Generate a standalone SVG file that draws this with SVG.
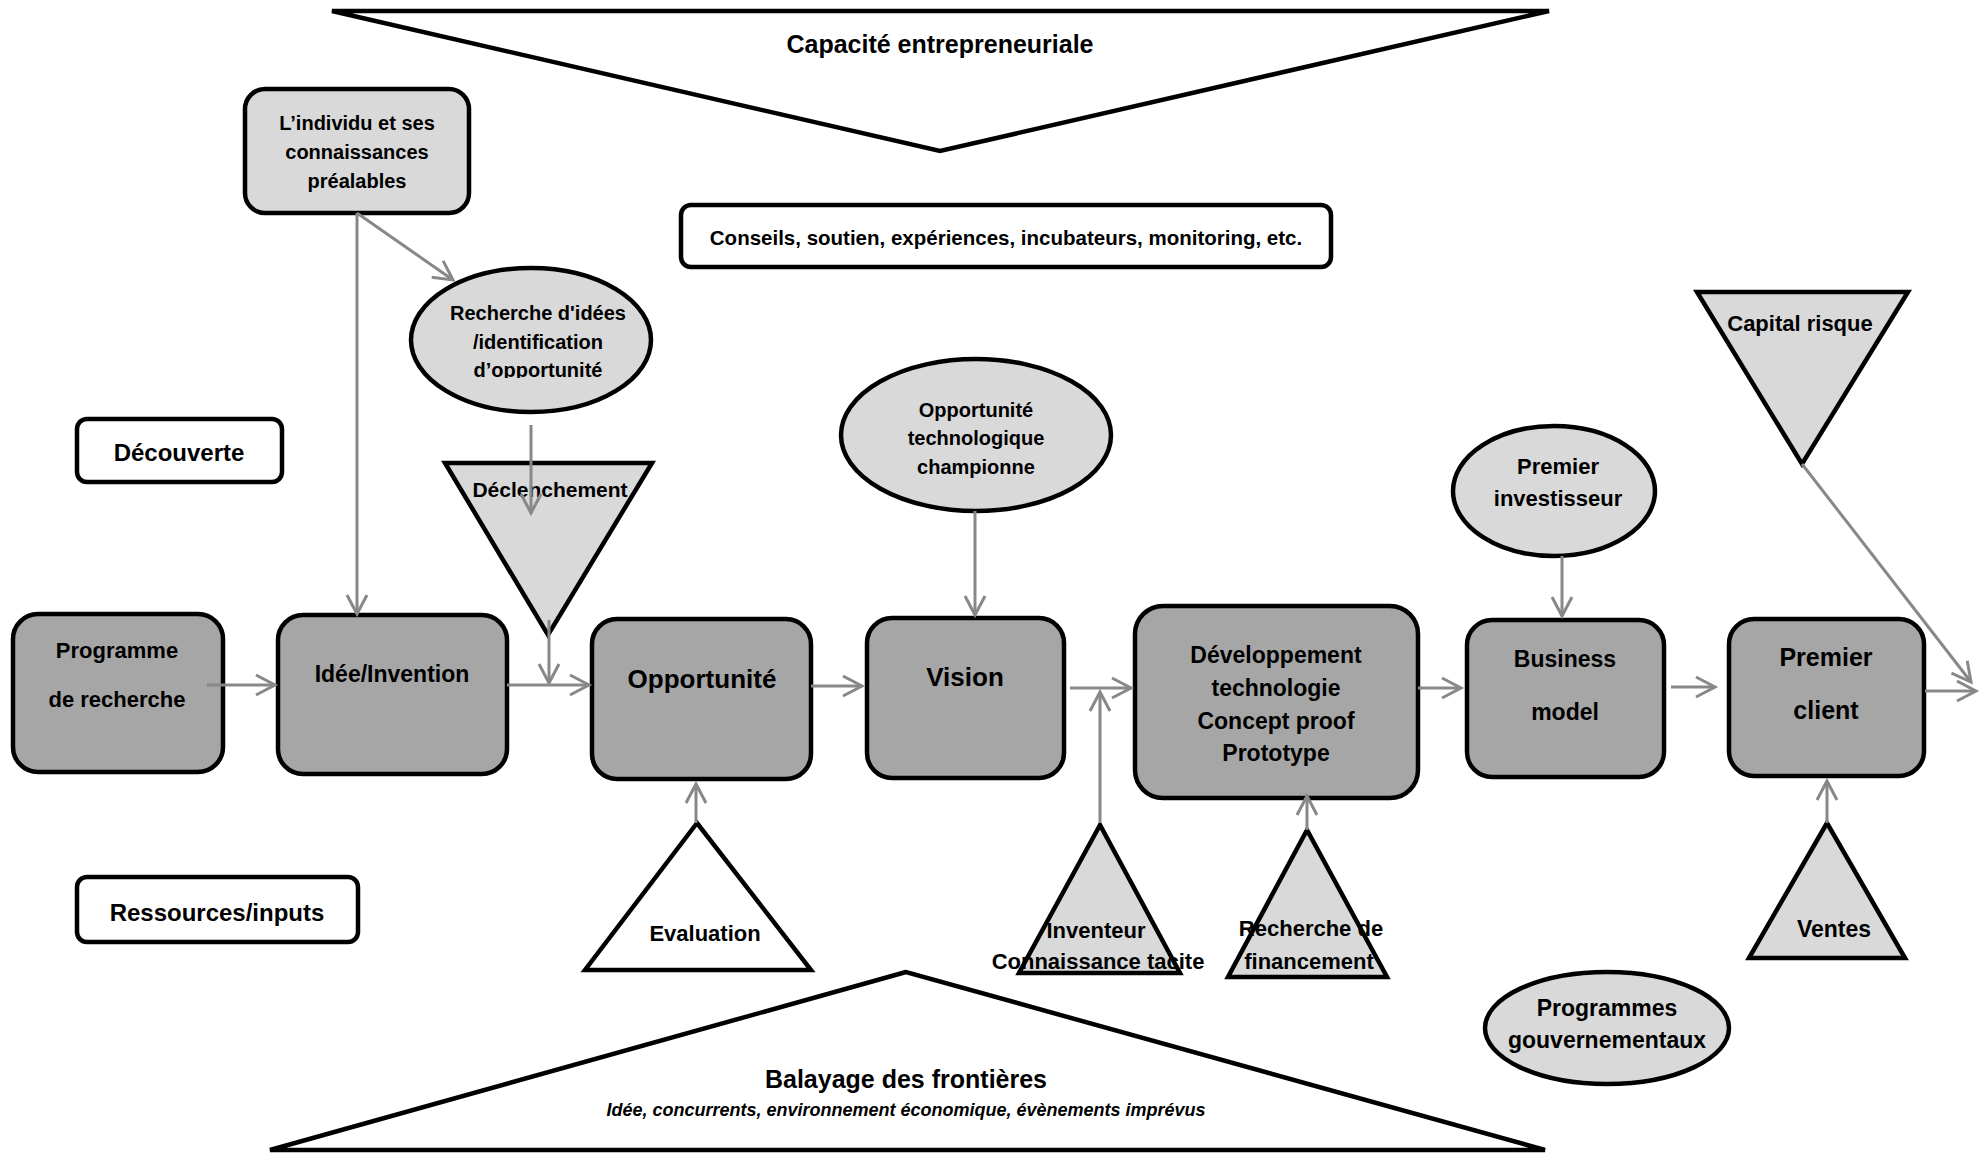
<svg xmlns="http://www.w3.org/2000/svg" width="1988" height="1153" viewBox="0 0 1988 1153">
<defs>
<style>
text{font-family:"Liberation Sans",Arial,sans-serif;font-weight:bold;fill:#000;text-anchor:middle}
.box{fill:#a6a6a6;stroke:#000;stroke-width:4.5}
.lt{fill:#d9d9d9;stroke:#000;stroke-width:4.5}
.wt{fill:#fff;stroke:#000;stroke-width:4.5}
.tri{stroke-linejoin:miter}
.con path{fill:none;stroke:#888;stroke-width:3;marker-end:url(#arr)}
</style>
<marker id="arr" markerUnits="userSpaceOnUse" viewBox="0 0 24 24" markerWidth="24" markerHeight="24" refX="21" refY="12" orient="auto" overflow="visible">
<path d="M2,2 L21,12 L2,22" fill="none" stroke="#888" stroke-width="3"/>
</marker>
<clipPath id="clipRech"><rect x="400" y="280" width="260" height="98"/></clipPath>
</defs>
<rect width="1988" height="1153" fill="#fff"/>

<g id="capacite">
<polygon class="wt tri" points="332,11 1549,11 940,151" stroke-width="5"/>
<text x="940" y="53" font-size="25">Capacité entrepreneuriale</text>
</g>

<g id="individu">
<rect class="lt" x="245" y="89" width="224" height="124" rx="20"/>
<text x="357" y="130" font-size="20">L’individu et ses</text>
<text x="357" y="159" font-size="20">connaissances</text>
<text x="357" y="188" font-size="20">préalables</text>
</g>

<g id="conseils">
<rect class="wt" x="681" y="205" width="650" height="62" rx="10"/>
<text x="1006" y="245" font-size="20.5">Conseils, soutien, expériences, incubateurs, monitoring, etc.</text>
</g>

<g id="recherche">
<ellipse class="lt" cx="531" cy="340" rx="120" ry="72"/>
<g clip-path="url(#clipRech)">
<text x="538" y="320" font-size="20">Recherche d'idées</text>
<text x="538" y="349" font-size="20">/identification</text>
<text x="538" y="377" font-size="20">d’opportunité</text>
</g>
</g>

<g id="decouverte">
<rect class="wt" x="77" y="419" width="205" height="63" rx="10"/>
<text x="179" y="461" font-size="24">Découverte</text>
</g>

<g id="declenchement">
<polygon class="lt tri" points="445,463 652,463 548,635" stroke-width="2.5"/>
<text x="550" y="497" font-size="21">Déclenchement</text>
</g>

<g id="opptech">
<ellipse class="lt" cx="976" cy="435" rx="135" ry="76"/>
<text x="976" y="417" font-size="20">Opportunité</text>
<text x="976" y="445" font-size="20">technologique</text>
<text x="976" y="474" font-size="20">championne</text>
</g>

<g id="investisseur">
<ellipse class="lt" cx="1554" cy="491" rx="101" ry="65"/>
<text x="1558" y="474" font-size="22">Premier</text>
<text x="1558" y="506" font-size="22">investisseur</text>
</g>

<g id="capital">
<polygon class="lt tri" points="1697,292 1908,292 1802,464"/>
<text x="1800" y="331" font-size="22">Capital risque</text>
</g>

<g id="programme">
<rect class="box" x="13" y="614" width="210" height="158" rx="25"/>
<text x="117" y="658" font-size="22">Programme</text>
<text x="117" y="707" font-size="22">de recherche</text>
</g>

<g id="idee">
<rect class="box" x="278" y="615" width="229" height="159" rx="25"/>
<text x="392" y="682" font-size="23">Idée/Invention</text>
</g>

<g id="opportunite">
<rect class="box" x="592" y="619" width="219" height="160" rx="25"/>
<text x="702" y="688" font-size="26">Opportunité</text>
</g>

<g id="vision">
<rect class="box" x="867" y="618" width="197" height="160" rx="25"/>
<text x="965" y="686" font-size="26">Vision</text>
</g>

<g id="developpement">
<rect class="box" x="1135" y="606" width="283" height="192" rx="28"/>
<text x="1276" y="663" font-size="23">Développement</text>
<text x="1276" y="696" font-size="23">technologie</text>
<text x="1276" y="729" font-size="23">Concept proof</text>
<text x="1276" y="761" font-size="23">Prototype</text>
</g>

<g id="business">
<rect class="box" x="1467" y="620" width="197" height="157" rx="25"/>
<text x="1565" y="667" font-size="23">Business</text>
<text x="1565" y="720" font-size="23">model</text>
</g>

<g id="client">
<rect class="box" x="1729" y="619" width="195" height="157" rx="25"/>
<text x="1826" y="666" font-size="25">Premier</text>
<text x="1826" y="719" font-size="25">client</text>
</g>

<g id="evaluation">
<polygon class="wt tri" points="697,823 585,970 811,970"/>
<text x="705" y="941" font-size="22">Evaluation</text>
</g>

<g id="inventeur">
<polygon class="lt tri" points="1100,825 1019,973 1180,973"/>
<text x="1096" y="938" font-size="22">Inventeur</text>
<text x="1098" y="969" font-size="22">Connaissance tacite</text>
</g>

<g id="financement">
<polygon class="lt tri" points="1307,830 1228,977 1387,977"/>
<text x="1311" y="936" font-size="22">Recherche de</text>
<text x="1309" y="969" font-size="22">financement</text>
</g>

<g id="ventes">
<polygon class="lt tri" points="1827,823 1749,958 1905,958"/>
<text x="1834" y="937" font-size="23">Ventes</text>
</g>

<g id="gouv">
<ellipse class="lt" cx="1607" cy="1028" rx="122" ry="56"/>
<text x="1607" y="1016" font-size="23">Programmes</text>
<text x="1607" y="1048" font-size="23">gouvernementaux</text>
</g>

<g id="ressources">
<rect class="wt" x="77" y="877" width="281" height="65" rx="10"/>
<text x="217" y="921" font-size="24">Ressources/inputs</text>
</g>

<g id="balayage">
<polygon class="wt tri" points="906,972 270,1150 1545,1150" stroke-width="5"/>
<text x="906" y="1088" font-size="25">Balayage des frontières</text>
<text x="906" y="1116" font-size="18" font-style="italic">Idée, concurrents, environnement économique, évènements imprévus</text>
</g>

<g id="connectors" class="con">
<path d="M357,213 L357,614"/>
<path d="M357,213 L453,280"/>
<path d="M531,425 L531,513"/>
<path d="M549,620 L549,683"/>
<path d="M207,685 L275,685"/>
<path d="M507,685 L589,685"/>
<path d="M811,686 L862,686"/>
<path d="M975,511 L975,615"/>
<path d="M1070,688 L1131,688"/>
<path d="M1100,823 L1100,692"/>
<path d="M1307,830 L1307,796"/>
<path d="M1418,688 L1461,688"/>
<path d="M1562,556 L1562,616"/>
<path d="M1671,687 L1715,687"/>
<path d="M1925,691 L1976,691"/>
<path d="M1802,464 L1971,682"/>
<path d="M1827,823 L1827,781"/>
<path d="M696,823 L696,784"/>
</g>
</svg>
